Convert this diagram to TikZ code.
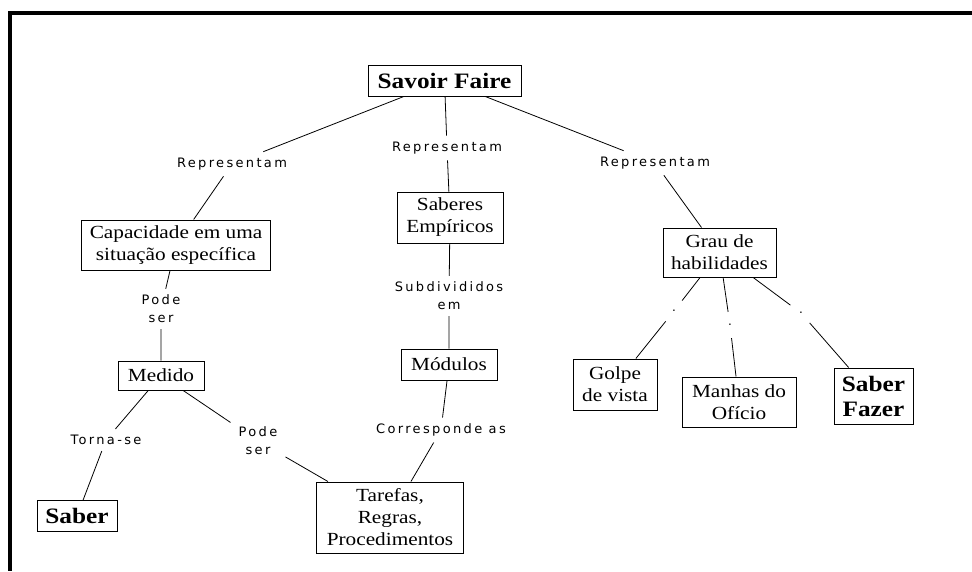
\documentclass[tikz,border=0pt]{standalone}
\usepackage{fontspec}
\setmainfont{Liberation Serif}
\newfontfamily\boxfont[FakeStretch=1.15]{Liberation Serif}
\newfontfamily\linkfont[LetterSpace=18]{DejaVu Sans}
\begin{document}
\begin{tikzpicture}[x=1pt,y=-1pt,
  concept/.style={draw, line width=1pt, inner sep=0pt, align=center,
    font=\boxfont\fontsize{18.5}{22}\selectfont},
  keyconcept/.style={concept, font=\boxfont\bfseries\fontsize{22}{25}\selectfont},
  linkword/.style={inner xsep=8pt, inner ysep=6pt, align=center,
    font=\linkfont\fontsize{13}{18}\selectfont},
  blank/.style={circle, minimum size=26pt, inner sep=0pt,
    font=\linkfont\fontsize{12}{12}\selectfont},
  link/.style={line width=0.8pt}]
\useasboundingbox (0,0) rectangle (972,571);

% heavy frame along the top and left edges
\fill (8,11) rectangle (972,15);
\fill (8,11) rectangle (12,571);

% concepts
\node[keyconcept, minimum width=153pt, minimum height=31pt] (sf) at (444.5,80.5) {Savoir Faire};
\node[concept, minimum width=189pt, minimum height=50pt] (cap) at (176,245) {Capacidade em uma\\situação específica};
\node[concept, minimum width=106pt, minimum height=51pt] (se) at (450,217.5) {Saberes\\Empíricos};
\node[concept, minimum width=113pt, minimum height=49pt] (gh) at (719.5,252.5) {Grau de\\habilidades};
\node[concept, minimum width=86pt, minimum height=29pt] (med) at (161,375.5) {Medido};
\node[concept, minimum width=96pt, minimum height=31pt] (mod) at (449,364.5) {Módulos};
\node[keyconcept, minimum width=80pt, minimum height=31pt] (sab) at (77,516) {Saber};
\node[concept, minimum width=147pt, minimum height=71pt] (tar) at (390,517.5) {Tarefas,\\Regras,\\Procedimentos};
\node[concept, minimum width=84pt, minimum height=51pt] (gol) at (615,384.5) {Golpe\\de vista};
\node[concept, minimum width=114pt, minimum height=50pt] (man) at (739,402) {Manhas do\\Ofício};
\node[keyconcept, minimum width=79pt, minimum height=56pt] (sfz) at (873.5,396) {Saber\\Fazer};

% linking phrases
\node[linkword] (r1) at (232,164) {Representam};
\node[linkword] (r2) at (447,148) {Representam};
\node[linkword] (r3) at (655,163) {Representam};
\node[linkword] (p1) at (161,309) {Pode\\ser};
\node[linkword] (sd) at (449,296) {Subdivididos\\em};
\node[linkword] (tn) at (106,440) {Torna-se};
\node[linkword] (p2) at (258,441) {Pode\\ser};
\node[linkword] (cr) at (441,430) {Corresponde as};
\node[blank] (d1) at (674,311) {.};
\node[blank] (d2) at (730,325) {.};
\node[blank] (d3) at (801,313) {.};

% connectors
\draw[link] (sf) -- (r1) (r1) -- (cap);
\draw[link] (sf) -- (r2) (r2) -- (se);
\draw[link] (sf) -- (r3) (r3) -- (gh);
\draw[link] (cap) -- (p1) (p1) -- (med);
\draw[link] (se) -- (sd) (sd) -- (mod);
\draw[link] (med) -- (tn) (tn) -- (sab);
\draw[link] (med) -- (p2) (p2) -- (tar);
\draw[link] (mod) -- (cr) (cr) -- (tar);
\draw[link] (gh) -- (d1) (d1) -- (gol);
\draw[link] (gh) -- (d2) (d2) -- (man);
\draw[link] (gh) -- (d3) (d3) -- (sfz);
\end{tikzpicture}
\end{document}
